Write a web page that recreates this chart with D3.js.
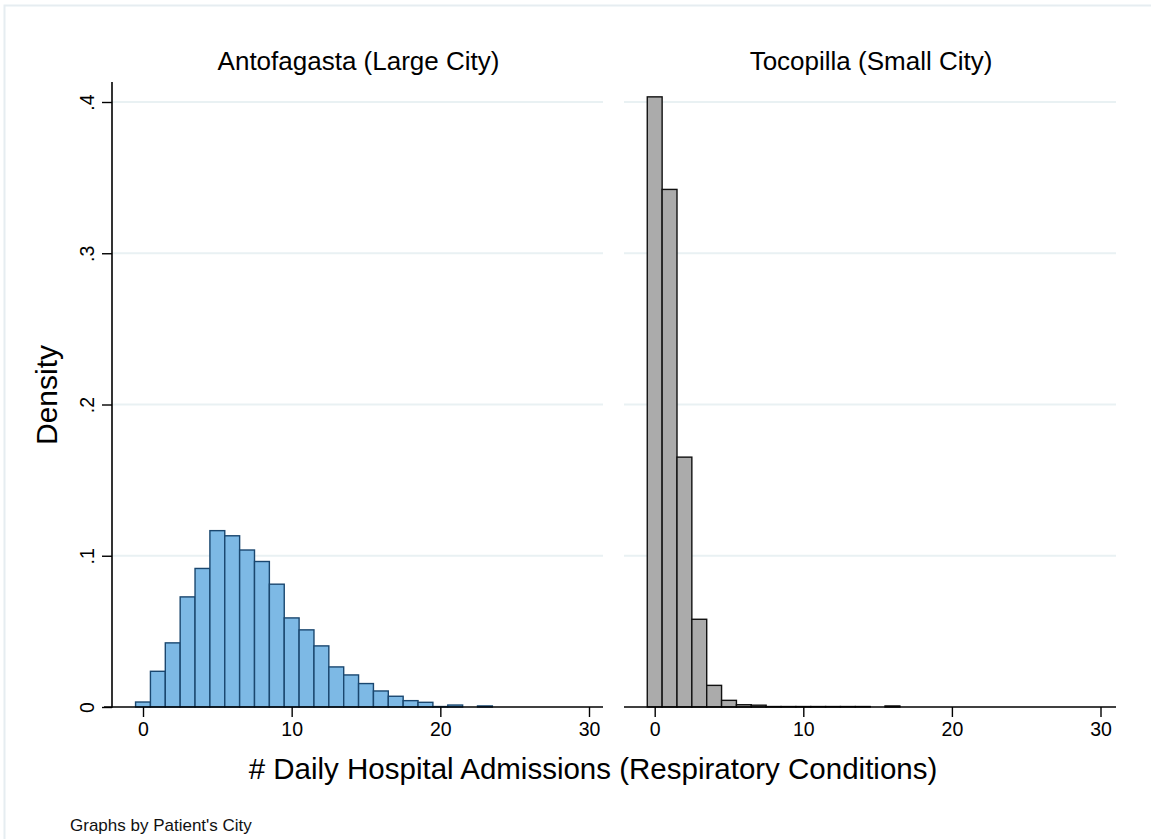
<!DOCTYPE html>
<html>
<head>
<meta charset="utf-8">
<script src="https://cdn.jsdelivr.net/npm/d3@7"></script>
<style>
  html, body { margin: 0; padding: 0; background: #ffffff; }
  svg { display: block; font-family: "Liberation Sans", Arial, sans-serif; }
</style>
</head>
<body>
<svg id="chart" width="1151" height="839"></svg>
<script>
// Histogram densities, one bin per integer count (bins centred on 0, 1, 2, ...)
const antofagastaDensity = [
  0.0033, 0.0236, 0.0424, 0.0728, 0.0916, 0.1166, 0.1132, 0.1038,
  0.0962, 0.0812, 0.0589, 0.0510, 0.0404, 0.0265, 0.0212, 0.0155,
  0.0106, 0.0071, 0.0042, 0.0031, 0.0003, 0.0013, 0.0000, 0.0007
];
const tocopillaDensity = [
  0.4034, 0.3422, 0.1652, 0.0580, 0.0143, 0.0044, 0.0015, 0.0012,
  0.0003, 0.0003, 0.0003, 0.0003, 0.0003, 0.0003, 0.0003, 0.0000,
  0.0007
];
const panelTitles = ["Antofagasta (Large City)", "Tocopilla (Small City)"];
const xTickValues = [0, 10, 20, 30];
const yTickValues = [0, 0.1, 0.2, 0.3, 0.4];
const yTickLabels = ["0", ".1", ".2", ".3", ".4"];
const xAxisTitle = "# Daily Hospital Admissions (Respiratory Conditions)";
const yAxisTitle = "Density";
const noteText = "Graphs by Patient's City";

const svg = d3.select("#chart");

// light outer frame of the graph region
svg.append("rect")
  .attr("x", 4.5).attr("y", 5.5)
  .attr("width", 1300).attr("height", 1000)
  .attr("fill", "none")
  .attr("stroke", "#e6edf1")
  .attr("stroke-width", 2);

const y = d3.scaleLinear().domain([0, 0.4]).range([707, 102]);

const panels = [
  {
    data: antofagastaDensity, title: panelTitles[0],
    x: d3.scaleLinear().domain([0, 30]).range([143, 589]),
    left: 112, right: 603, axisStart: 104,
    fill: "#7db9e5", stroke: "#1a476f", yAxis: true
  },
  {
    data: tocopillaDensity, title: panelTitles[1],
    x: d3.scaleLinear().domain([0, 30]).range([654.7, 1100.5]),
    left: 624, right: 1116, axisStart: 624,
    fill: "#ababab", stroke: "#111111", yAxis: false
  }
];

panels.forEach(p => {
  const g = svg.append("g");

  // horizontal grid lines
  g.selectAll("line.grid")
    .data(yTickValues.filter(v => v > 0))
    .join("line")
    .attr("class", "grid")
    .attr("x1", p.left).attr("x2", p.right)
    .attr("y1", d => y(d)).attr("y2", d => y(d))
    .attr("stroke", "#e9f1f3")
    .attr("stroke-width", 2);

  // histogram bars
  g.selectAll("rect.bar")
    .data(p.data.map((v, i) => ({ bin: i, value: v })).filter(d => d.value > 0))
    .join("rect")
    .attr("class", "bar")
    .attr("x", d => p.x(d.bin - 0.5))
    .attr("width", d => p.x(d.bin + 0.5) - p.x(d.bin - 0.5))
    .attr("y", d => y(d.value))
    .attr("height", d => y(0) - y(d.value))
    .attr("fill", p.fill)
    .attr("stroke", p.stroke)
    .attr("stroke-width", 1.4);

  // x axis
  const xAxis = g.append("g")
    .attr("transform", `translate(0,${y(0)})`)
    .call(d3.axisBottom(p.x).tickValues(xTickValues).tickSize(10).tickPadding(5).tickFormat(d3.format("d")));
  xAxis.select(".domain").remove();
  xAxis.selectAll(".tick line").attr("stroke", "#000").attr("stroke-width", 1.4);
  xAxis.selectAll(".tick text")
    .attr("font-size", 19.5).attr("fill", "#000")
    .attr("font-family", "Liberation Sans, Arial, sans-serif");
  g.append("line")
    .attr("x1", p.axisStart).attr("x2", p.right)
    .attr("y1", y(0)).attr("y2", y(0))
    .attr("stroke", "#000").attr("stroke-width", 1.6);

  // y axis (left panel only)
  if (p.yAxis) {
    const yAxis = g.append("g")
      .attr("transform", `translate(${p.left},0)`)
      .call(d3.axisLeft(y).tickValues(yTickValues).tickSize(10).tickFormat((d, i) => yTickLabels[i]));
    yAxis.select(".domain").remove();
    yAxis.selectAll(".tick line").attr("stroke", "#000").attr("stroke-width", 1.4);
    yAxis.selectAll(".tick text")
      .attr("font-size", 19.5).attr("fill", "#000")
      .attr("font-family", "Liberation Sans, Arial, sans-serif")
      .attr("text-anchor", "middle")
      .attr("x", null).attr("dy", null)
      .attr("transform", "translate(-18,0) rotate(-90)");
    g.append("line")
      .attr("x1", p.left).attr("x2", p.left)
      .attr("y1", 82).attr("y2", y(0) + 0.8)
      .attr("stroke", "#000").attr("stroke-width", 1.6);
  }

  // panel title
  g.append("text")
    .attr("x", (p.left + p.right) / 2 + 1)
    .attr("y", 70)
    .attr("text-anchor", "middle")
    .attr("font-size", 26)
    .attr("fill", "#000")
    .text(p.title);
});

// shared axis titles
svg.append("text")
  .attr("x", 593).attr("y", 779)
  .attr("text-anchor", "middle")
  .attr("font-size", 29.5)
  .attr("fill", "#000")
  .text(xAxisTitle);

svg.append("text")
  .attr("transform", "translate(57,395) rotate(-90)")
  .attr("text-anchor", "middle")
  .attr("font-size", 30)
  .attr("fill", "#000")
  .text(yAxisTitle);

svg.append("text")
  .attr("x", 70).attr("y", 831)
  .attr("font-size", 17)
  .attr("fill", "#111")
  .text(noteText);
</script>
</body>
</html>
